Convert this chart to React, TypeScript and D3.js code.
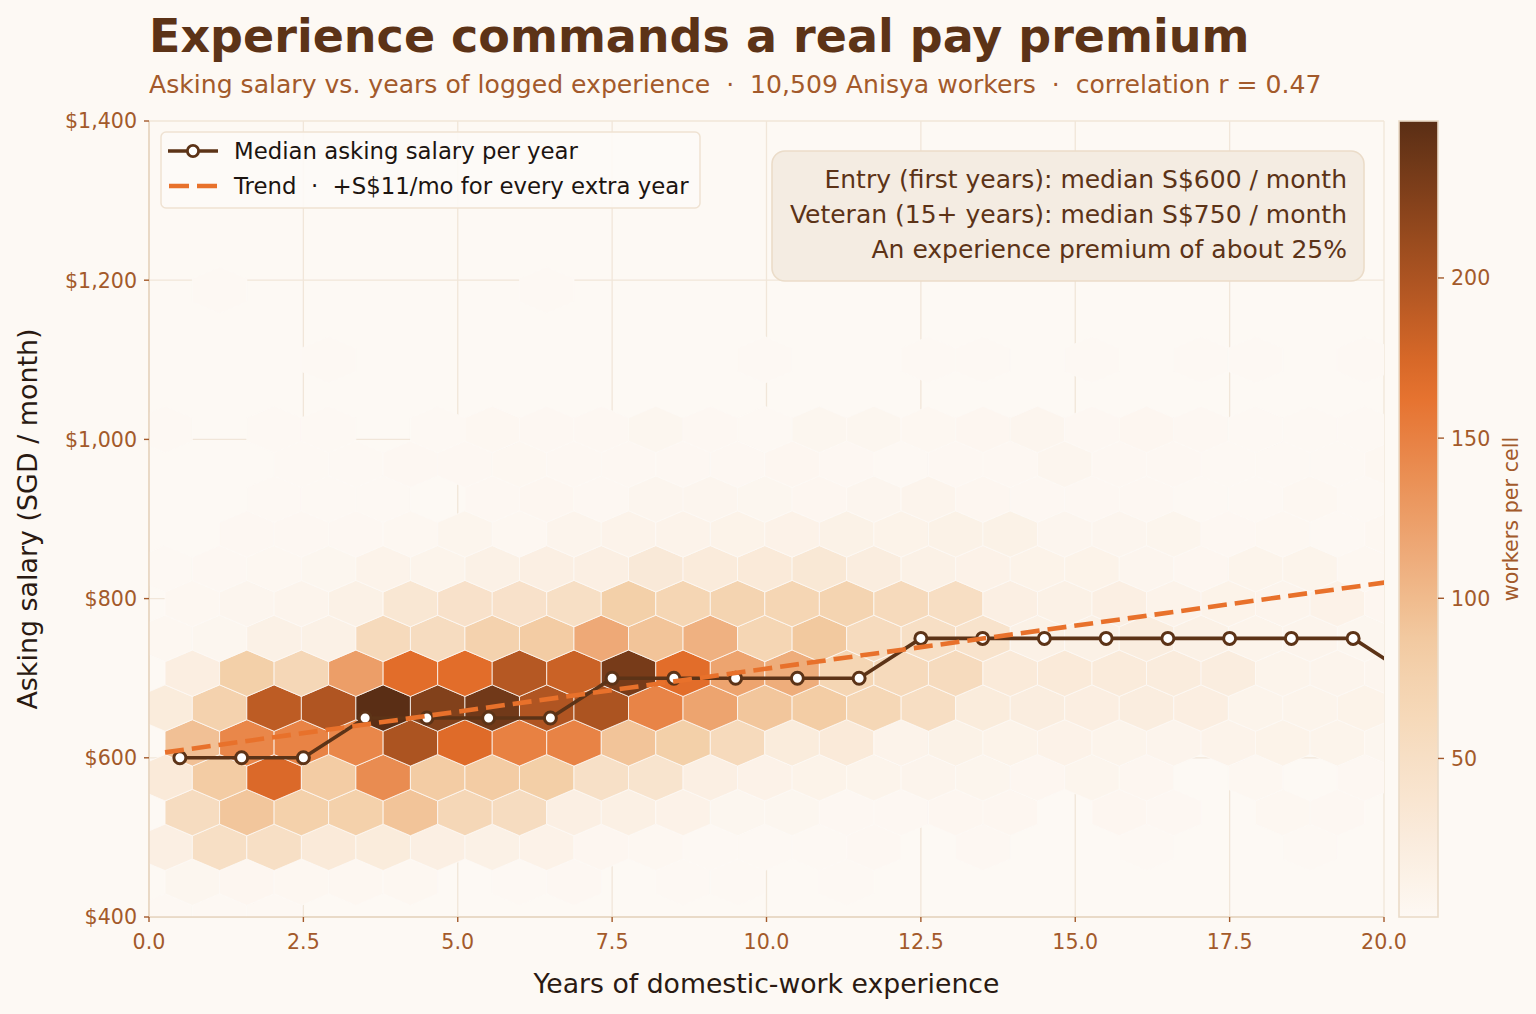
import React from "react";
import * as d3 from "d3";

const WIDTH = 1536;
const HEIGHT = 1014;
const PLOT = { left: 149, right: 1384, top: 121, bottom: 917 };
const CBAR = { left: 1399, right: 1438 };

const BG = "#fdf9f4";
const BROWN = "#5c3317";
const LABEL_BROWN = "#a35a2b";
const ORANGE = "#e8712b";
const GRID = "#f1e6d9";
const SPINE = "#e6d4bf";
const FONT = "DejaVu Sans, sans-serif";

const xTicks = [0, 2.5, 5, 7.5, 10, 12.5, 15, 17.5, 20];
const yTicks = [400, 600, 800, 1000, 1200, 1400];
const colorTicks = [50, 100, 150, 200];

// median asking salary per year of experience
const medianYears = [0.5, 1.5, 2.5, 3.5, 4.5, 5.5, 6.5, 7.5, 8.5, 9.5, 10.5, 11.5, 12.5, 13.5, 14.5, 15.5, 16.5, 17.5, 18.5, 19.5, 20.5];
const medianSalary = [600, 600, 600, 650, 650, 650, 650, 700, 700, 700, 700, 700, 750, 750, 750, 750, 750, 750, 750, 750, 700];

// linear trend
const trendYears = [0.26, 20.6];
const TREND_INTERCEPT = 604;
const TREND_SLOPE = 10.8;

// hexbin lattice (matplotlib style): even rows on lattice 1, odd rows offset by half a cell
const HEX_X0 = 0.26;
const HEX_SX = 0.883;
const HEX_Y0 = 400;
const HEX_SY = 87.5;
const COUNT_MIN = 0.5;
const COUNT_MAX = 249;
const cmapColors = ["#fdf8f3", "#f3cea6", "#e56e2a", "#5a2e15"];

// workers per cell, row r = salary HEX_Y0 + r * HEX_SY / 2, column i
const hexCounts: number[][] = [
  [1, 1, 1, 0, 0, 0, 0, 0, 0, 0, 0, 0, 0, 0, 0, 0, 0, 0, 0, 0, 0, 0, 0],
  [5, 4, 3, 3, 3, 0, 1, 2, 0, 1, 1, 0, 1, 0, 0, 0, 0, 0, 0, 0, 0, 0, 0],
  [18, 50, 50, 28, 25, 18, 15, 12, 4, 3, 1, 1, 1, 2, 0, 2, 0, 0, 1, 0, 0, 1, 0],
  [55, 90, 78, 78, 92, 65, 55, 18, 17, 12, 5, 5, 2, 2, 4, 4, 0, 4, 2, 0, 3, 2, 0],
  [28, 85, 172, 85, 140, 85, 85, 82, 48, 40, 18, 12, 11, 9, 8, 7, 4, 7, 4, 0, 3, 0, 2],
  [95, 145, 148, 145, 200, 170, 150, 148, 92, 80, 60, 25, 28, 10, 13, 11, 12, 9, 8, 10, 11, 9, 5],
  [25, 75, 190, 198, 249, 225, 235, 198, 200, 147, 120, 90, 84, 66, 52, 25, 22, 20, 22, 20, 9, 9, 11],
  [20, 80, 65, 125, 168, 168, 195, 182, 232, 168, 120, 112, 68, 60, 58, 28, 28, 26, 24, 22, 9, 8, 6],
  [3, 5, 15, 15, 60, 55, 75, 85, 115, 92, 108, 68, 88, 58, 50, 42, 14, 14, 22, 15, 9, 8, 5],
  [3, 6, 8, 15, 35, 45, 45, 50, 80, 68, 72, 68, 72, 60, 52, 18, 15, 18, 10, 11, 8, 12, 4],
  [1, 2, 3, 5, 10, 9, 14, 18, 18, 30, 26, 28, 33, 22, 15, 12, 11, 11, 6, 4, 9, 9, 3],
  [0, 2, 2, 2, 3, 7, 3, 8, 10, 10, 11, 12, 13, 11, 13, 13, 6, 6, 7, 2, 3, 1, 3],
  [0, 0, 1, 1, 1, 0, 2, 4, 2, 6, 6, 5, 4, 6, 8, 4, 2, 2, 2, 1, 1, 3, 1],
  [0, 0, 1, 1, 2, 2, 3, 2, 2, 2, 2, 4, 2, 1, 2, 2, 6, 2, 2, 1, 1, 1, 3],
  [1, 0, 1, 1, 0, 1, 3, 2, 2, 5, 2, 1, 5, 5, 3, 4, 6, 2, 4, 2, 1, 1, 1],
  [0, 0, 0, 0, 0, 0, 0, 0, 0, 0, 0, 0, 0, 0, 0, 0, 0, 0, 0, 0, 0, 0, 0],
  [0, 0, 0, 1, 0, 0, 0, 0, 0, 0, 0, 1, 0, 0, 1, 1, 0, 1, 0, 1, 1, 0, 1],
  [0, 0, 0, 0, 0, 0, 0, 0, 0, 0, 0, 0, 0, 0, 0, 0, 0, 0, 0, 0, 0, 0, 0],
  [0, 1, 0, 0, 0, 0, 0, 1, 0, 0, 0, 0, 0, 0, 0, 0, 0, 0, 0, 0, 0, 0, 0],
];

const annotationLines = [
  "Entry (first years): median S$600 / month",
  "Veteran (15+ years): median S$750 / month",
  "An experience premium of about 25%",
];

export default function App() {
  const x = d3.scaleLinear().domain([0, 20]).range([PLOT.left, PLOT.right]);
  const y = d3.scaleLinear().domain([400, 1400]).range([PLOT.bottom, PLOT.top]);
  const step = (COUNT_MAX - COUNT_MIN) / 3;
  const color = d3
    .scaleLinear<string>()
    .domain([COUNT_MIN, COUNT_MIN + step, COUNT_MIN + 2 * step, COUNT_MAX])
    .range(cmapColors)
    .interpolate(d3.interpolateRgb)
    .clamp(true);
  const cbY = d3.scaleLinear().domain([COUNT_MIN, COUNT_MAX]).range([PLOT.bottom, PLOT.top]);

  // hexagon half sizes in pixels
  const hw = (x(HEX_SX) - x(0)) / 2;
  const h3 = y(400) - y(400 + HEX_SY / 3);
  const h6 = h3 / 2;

  const hexes: { key: string; d: string; fill: string }[] = [];
  hexCounts.forEach((row, r) => {
    const cy = HEX_Y0 + (r * HEX_SY) / 2;
    row.forEach((n, i) => {
      if (n < 1) return;
      const cx = HEX_X0 + (i + (r % 2 ? 0.5 : 0)) * HEX_SX;
      const px = x(cx);
      const py = y(cy);
      const d = `M${px},${py - h3}L${px + hw},${py - h6}L${px + hw},${py + h6}L${px},${py + h3}L${px - hw},${py + h6}L${px - hw},${py - h6}Z`;
      hexes.push({ key: `${r}-${i}`, d, fill: color(n) });
    });
  });

  const medianLine = d3
    .line<number>()
    .x((_, i) => x(medianYears[i]))
    .y((v) => y(v))(medianSalary);

  const trendLine = d3
    .line<number>()
    .x((v) => x(v))
    .y((v) => y(TREND_INTERCEPT + TREND_SLOPE * v))(trendYears);

  const gradStops = d3.range(0, 21).map((k) => {
    const t = k / 20;
    return { offset: `${t * 100}%`, c: color(COUNT_MIN + t * (COUNT_MAX - COUNT_MIN)) };
  });

  return (
    <svg
      width={WIDTH}
      height={HEIGHT}
      style={{ position: "absolute", left: 0, top: 0, fontFamily: FONT }}
    >
      <defs>
        <clipPath id="plot-clip">
          <rect x={PLOT.left} y={PLOT.top} width={PLOT.right - PLOT.left} height={PLOT.bottom - PLOT.top} />
        </clipPath>
        <linearGradient id="cbar-grad" x1="0" y1="1" x2="0" y2="0">
          {gradStops.map((s) => (
            <stop key={s.offset} offset={s.offset} stopColor={s.c} />
          ))}
        </linearGradient>
      </defs>
      <rect width={WIDTH} height={HEIGHT} fill={BG} />

      {/* titles */}
      <text x={149} y={52} fontSize={46} fontWeight="bold" fill={BROWN}>
        Experience commands a real pay premium
      </text>
      <text x={149} y={93} fontSize={25.1} fill={LABEL_BROWN} style={{ whiteSpace: "pre" }}>
        {"Asking salary vs. years of logged experience  \u00b7  10,509 Anisya workers  \u00b7  correlation r = 0.47"}
      </text>

      {/* grid */}
      <g stroke={GRID} strokeWidth={1.3}>
        {xTicks.map((t) => (
          <line key={`gx${t}`} x1={x(t)} x2={x(t)} y1={PLOT.top} y2={PLOT.bottom} />
        ))}
        {yTicks.map((t) => (
          <line key={`gy${t}`} x1={PLOT.left} x2={PLOT.right} y1={y(t)} y2={y(t)} />
        ))}
      </g>

      {/* hexbin */}
      <g clipPath="url(#plot-clip)">
        {hexes.map((h) => (
          <path key={h.key} d={h.d} fill={h.fill} stroke="#fdf9f5" strokeWidth={0.8} />
        ))}
        <path d={medianLine ?? ""} fill="none" stroke={BROWN} strokeWidth={3.6} />
        {medianSalary.map((v, i) => (
          <circle key={`m${i}`} cx={x(medianYears[i])} cy={y(v)} r={6} fill="#ffffff" stroke={BROWN} strokeWidth={3} />
        ))}
        <path d={trendLine ?? ""} fill="none" stroke={ORANGE} strokeWidth={4.6} strokeDasharray="19 8" />
      </g>

      {/* spines and ticks */}
      <line x1={PLOT.left} x2={PLOT.left} y1={PLOT.top} y2={PLOT.bottom} stroke={SPINE} strokeWidth={1.6} />
      <line x1={PLOT.left} x2={PLOT.right} y1={PLOT.bottom} y2={PLOT.bottom} stroke={SPINE} strokeWidth={1.6} />
      {xTicks.map((t) => (
        <g key={`xt${t}`}>
          <line x1={x(t)} x2={x(t)} y1={PLOT.bottom} y2={PLOT.bottom + 5} stroke={LABEL_BROWN} strokeWidth={1.4} />
          <text x={x(t)} y={PLOT.bottom + 32} fontSize={20.6} fill={LABEL_BROWN} textAnchor="middle">
            {t.toFixed(1)}
          </text>
        </g>
      ))}
      {yTicks.map((t) => (
        <g key={`yt${t}`}>
          <line x1={PLOT.left - 5} x2={PLOT.left} y1={y(t)} y2={y(t)} stroke={LABEL_BROWN} strokeWidth={1.4} />
          <text x={PLOT.left - 12} y={y(t)} dy="0.36em" fontSize={20.6} fill={LABEL_BROWN} textAnchor="end">
            {d3.format("$,")(t)}
          </text>
        </g>
      ))}
      <text x={(PLOT.left + PLOT.right) / 2} y={993} fontSize={26.7} fill="#2a1a12" textAnchor="middle">
        Years of domestic-work experience
      </text>
      <text
        transform={`translate(37,${(PLOT.top + PLOT.bottom) / 2}) rotate(-90)`}
        fontSize={26.9}
        fill="#2a1a12"
        textAnchor="middle"
      >
        Asking salary (SGD / month)
      </text>

      {/* legend */}
      <g>
        <rect x={161} y={132} width={539} height={76} rx={5} fill="#fdfaf6" fillOpacity={0.92} stroke="#efe2d2" strokeWidth={1.5} />
        <line x1={168} x2={218} y1={151} y2={151} stroke={BROWN} strokeWidth={3.6} />
        <circle cx={193} cy={151} r={5.6} fill="#ffffff" stroke={BROWN} strokeWidth={2.8} />
        <text x={234} y={159} fontSize={22.8} fill="#1c1410">
          Median asking salary per year
        </text>
        <line x1={169} x2={218} y1={186} y2={186} stroke={ORANGE} strokeWidth={4.6} strokeDasharray="20 8" />
        <text x={234} y={194} fontSize={22.8} fill="#1c1410" style={{ whiteSpace: "pre" }}>
          {"Trend  \u00b7  +S$11/mo for every extra year"}
        </text>
      </g>

      {/* annotation */}
      <g>
        <rect x={772} y={151} width={592} height={130} rx={13} fill="#f4ece2" stroke="#ebdcc9" strokeWidth={1.6} />
        {annotationLines.map((t, i) => (
          <text key={t} x={1347} y={188 + i * 35} fontSize={25} fill={BROWN} textAnchor="end">
            {t}
          </text>
        ))}
      </g>

      {/* colorbar */}
      <g>
        <rect x={CBAR.left} y={PLOT.top} width={CBAR.right - CBAR.left} height={PLOT.bottom - PLOT.top} fill="url(#cbar-grad)" stroke="#eadbc8" strokeWidth={1.6} />
        {colorTicks.map((t) => (
          <g key={`ct${t}`}>
            <line x1={CBAR.right} x2={CBAR.right + 6} y1={cbY(t)} y2={cbY(t)} stroke={LABEL_BROWN} strokeWidth={1.4} />
            <text x={CBAR.right + 13} y={cbY(t)} dy="0.36em" fontSize={20.6} fill={LABEL_BROWN}>
              {t}
            </text>
          </g>
        ))}
        <text
          transform={`translate(1518,${(PLOT.top + PLOT.bottom) / 2}) rotate(-90)`}
          fontSize={20.7}
          fill={LABEL_BROWN}
          textAnchor="middle"
        >
          workers per cell
        </text>
      </g>
    </svg>
  );
}
